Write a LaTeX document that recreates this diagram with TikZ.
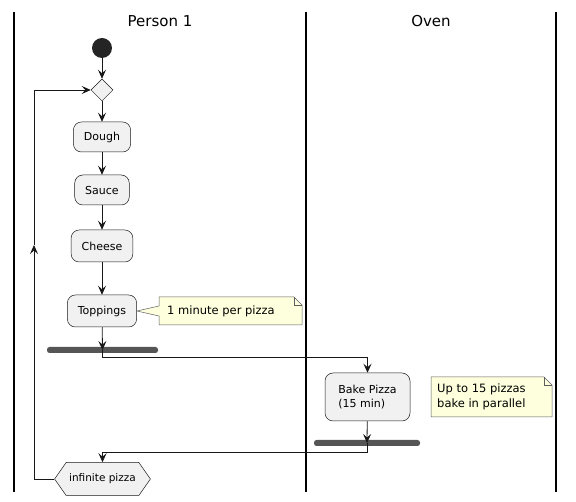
\documentclass[tikz,border=0pt]{standalone}
\usepackage{fontspec}
\setmainfont{DejaVu Sans}
\usetikzlibrary{arrows.meta,shapes.geometric,shapes.symbols}
\definecolor{actfill}{HTML}{F1F1F1}
\definecolor{ink}{HTML}{181818}
\definecolor{notefill}{HTML}{FEFFDD}
\definecolor{barfill}{HTML}{555555}

\begin{document}
\begin{tikzpicture}[x=1pt,y=-1pt,
	flow/.style={draw=ink,line width=0.8pt,-{Stealth[length=9pt,width=8pt,inset=3.5pt]}},
	lane/.style={draw=black,line width=1.3pt},
	title/.style={font=\fontsize{15}{18}\selectfont},
	act/.style={draw=ink,fill=actfill,line width=0.5pt,rounded corners=8pt,minimum height=30pt,inner xsep=10.5pt,font=\fontsize{11}{14}\selectfont},
	choice/.style={draw=ink,fill=actfill,line width=0.5pt,diamond,aspect=1,minimum size=22pt,inner sep=0pt},
	hexa/.style={draw=ink,fill=actfill,line width=0.5pt,signal,signal from=nowhere,signal to=east and west,signal pointer angle=110,minimum height=33pt,inner xsep=3pt,font=\fontsize{10.5}{13}\selectfont},
	startdot/.style={circle,fill=ink!95!white,minimum size=20pt,inner sep=0pt},
	barre/.style={fill=barfill,rounded corners=2.5pt,minimum height=6pt,inner sep=0pt},
	notepath/.style={draw=ink!70,fill=notefill,line width=0.5pt},
	notetext/.style={font=\fontsize{11.5}{14.5}\selectfont,align=left,inner sep=0pt}]
\useasboundingbox (0,0) rectangle (576,502);
% swimlanes
\coordinate (L0) at (14,12);
\coordinate (L1) at (306,12);
\coordinate (L2) at (556,12);
\draw[lane] (L0) -- ++(0,480);
\draw[lane] (L1) -- ++(0,480);
\draw[lane] (L2) -- ++(0,480);
\node[title] (person) at (160,21) {Person 1};
\node[title] (oven) at (431,21) {Oven};

% Person 1
\node[startdot] (start) at (102,48) {};
\node[choice] (loop) at (102,90) {};
\node[act] (dough) at (102,137) {Dough};
\node[act] (sauce) at (102,190) {Sauce};
\node[act,minimum height=32pt] (cheese) at (102,246) {Cheese};
\node[act,minimum height=32pt] (toppings) at (102,311) {Toppings};
\node[barre,minimum width=111pt] (fork1) at (102.5,350) {};
\node[hexa] (stop) at (102.5,479) {infinite pizza};

% note for toppings
\coordinate (N1) at (159,297);
\coordinate (N2) at (302,325);
\draw[notepath] (N1) -- (294,297) -- (302,305) -- (N2) -- (159,325) -- (159,316) -- (toppings.east) -- (159,306) -- cycle;
\draw[notepath,fill=none] (294,297) -- (294,305) -- (302,305);
\node[notetext,anchor=west] (note1) at (167,311) {1 minute per pizza};

% Oven
\node[act,minimum height=48pt,minimum width=85pt,inner xsep=9pt,align=left] (bake) at (367.5,397) {Bake Pizza\\(15 min)};
\node[barre,minimum width=106pt] (fork2) at (367,443) {};
\coordinate (N3) at (431,377);
\coordinate (N4) at (552,417);
\draw[notepath] (N3) -- (544,377) -- (552,385) -- (N4) -- (431,417) -- cycle;
\draw[notepath,fill=none] (544,377) -- (544,385) -- (552,385);
\node[notetext,anchor=west] (note2) at (437,397) {Up to 15 pizzas\\bake in parallel};

% connectors
\draw[flow] (start) -- (loop);
\draw[flow] (loop) -- (dough);
\draw[flow] (dough) -- (sauce);
\draw[flow] (sauce) -- (cheese);
\draw[flow] (cheese) -- (toppings);
\draw[flow] (toppings) -- (fork1.center);
\draw[flow] (fork1.center) -- ++(0,7) -| (bake.north);
\draw[flow] (bake) -- (fork2.center);
\draw[flow] (fork2.center) -- ++(0,9) -| (stop.north);
\coordinate (back) at (34,245);
\draw[flow] (stop.west) -| (back);
\draw[flow] (back) |- (loop.west);
\end{tikzpicture}
\end{document}
